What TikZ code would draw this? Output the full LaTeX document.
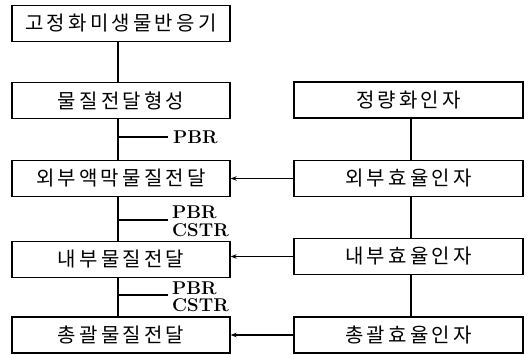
\documentclass[tikz,border=0pt]{standalone}
\usepackage{fontspec}
\newfontfamily\kr[LetterSpace=16]{Noto Sans CJK KR}
\usetikzlibrary{arrows.meta}
\begin{document}
\begin{tikzpicture}[x=1pt,y=-1pt,
 box/.style={draw, line width=1.3pt, minimum height=36pt, inner sep=0pt, font=\kr\fontsize{20}{22}\selectfont},
 lbox/.style={box, minimum width=218pt},
 rbox/.style={box, minimum width=229pt},
 conn/.style={line width=1.2pt},
 arr/.style={conn, -{Stealth[length=6pt,width=4.5pt]}},
 lab/.style={anchor=west, inner sep=0pt, align=left, font=\bfseries\fontsize{18.5}{17.5}\selectfont}]
\useasboundingbox (0,0) rectangle (528,355);
\node[lbox] (l1) at (121,23.5) {고정화미생물반응기};
\node[lbox] (l2) at (121,100.5) {물질전달형성};
\node[lbox] (l3) at (121,178.5) {외부액막물질전달};
\node[lbox] (l4) at (121,259.5) {내부물질전달};
\node[lbox] (l5) at (121,335) {총괄물질전달};
\node[rbox] (r1) at (408.5,100) {정량화인자};
\node[rbox] (r2) at (408.5,178.5) {외부효율인자};
\node[rbox] (r3) at (408.5,256.5) {내부효율인자};
\node[rbox] (r4) at (408.5,335) {총괄효율인자};
% left spine
\draw[conn] ([xshift=-3pt]l1.south) -- ([xshift=-3pt]l2.north);
\draw[conn] ([xshift=-3pt]l2.south) -- ([xshift=-3pt]l3.north);
\draw[conn] ([xshift=-3pt]l3.south) -- ([xshift=-3pt]l4.north);
\draw[conn] ([xshift=-3pt]l4.south) -- ([xshift=-3pt]l5.north);
% right spine
\draw[conn] ([xshift=2.5pt]r1.south) -- ([xshift=2.5pt]r2.north);
\draw[conn] ([xshift=2.5pt]r2.south) -- ([xshift=2.5pt]r3.north);
\draw[conn] ([xshift=2.5pt]r3.south) -- ([xshift=2.5pt]r4.north);
% labels
\coordinate (b1) at (118,137);
\coordinate (e1) at (168,137);
\draw[conn] (b1) -- (e1);
\node[lab] (t1) at (173,137) {PBR};
\coordinate (b2) at (118,220);
\coordinate (e2) at (168,220);
\draw[conn] (b2) -- (e2);
\node[lab] (t2) at (172,221.5) {PBR\\CSTR};
\coordinate (b3) at (118,295);
\coordinate (e3) at (168,295);
\draw[conn] (b3) -- (e3);
\node[lab] (t3) at (172,297) {PBR\\CSTR};
% arrows
\draw[arr] (r2.west) -- (r2.west -| l3.east);
\draw[arr] (r3.west) -- (r3.west -| l4.east);
\draw[arr] (r4.west) -- (r4.west -| l5.east);
\end{tikzpicture}
\end{document}
